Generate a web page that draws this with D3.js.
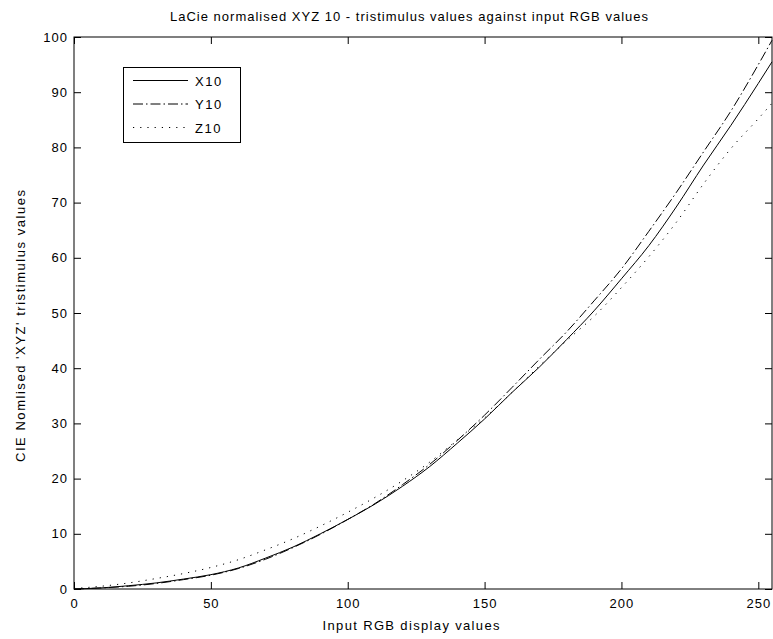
<!DOCTYPE html>

<head>
    <title>LaCie XYZ10</title>
    <script src="https://d3js.org/d3.v7.min.js"></script>

    <style>
        body {
            margin: 0;
            background-color: #ffffff;
        }

        svg text {
            font-family: "Liberation Sans", Arial, sans-serif;
            fill: #000;
        }

        .tick text {
            font-size: 13px;
            letter-spacing: 1px;
        }
    </style>
</head>

<body>
    <svg></svg>

    <script type="text/javascript">
        // input RGB display value, every 10 steps
        const rgb = [0, 10, 20, 30, 40, 50, 60, 70, 80, 90, 100, 110, 120, 130, 140, 150, 160, 170, 180, 190, 200, 210, 220, 230, 240, 250, 255]
        const x10 = [0, 0.2, 0.6, 1.1, 1.8, 2.6, 3.8, 5.6, 7.6, 10.0, 12.6, 15.4, 18.6, 22.2, 26.4, 30.8, 35.6, 40.2, 45.2, 50.4, 56.2, 62.2, 69.2, 76.8, 84.0, 91.6, 95.5]
        const y10 = [0, 0.2, 0.5, 1.0, 1.7, 2.5, 3.7, 5.4, 7.5, 9.9, 12.6, 15.5, 18.9, 22.6, 26.9, 31.5, 36.5, 41.6, 46.6, 52.2, 58.0, 64.8, 71.8, 79.2, 86.6, 95.0, 99.4]
        const z10 = [0.1, 0.5, 1.1, 1.9, 2.8, 3.9, 5.3, 7.1, 9.1, 11.4, 13.9, 16.6, 19.6, 23.0, 27.0, 31.0, 35.6, 40.4, 45.0, 49.4, 54.6, 60.2, 66.4, 73.4, 79.8, 85.2, 88.0]

        const seriesNames = ['X10', 'Y10', 'Z10']
        const dashes = ['none', '10,3,1.5,3', '1.2,6']

        const xTicks = [0, 50, 100, 150, 200, 250]
        const yTicks = [0, 10, 20, 30, 40, 50, 60, 70, 80, 90, 100]

        const W = 773, H = 639
        const plotL = 74, plotR = 772, plotT = 37, plotB = 589

        let svg = d3.select('svg').attr('width', W).attr('height', H)

        let xScale = d3.scaleLinear().domain([0, 255]).range([plotL, plotR])
        let yScale = d3.scaleLinear().domain([0, 100]).range([plotB, plotT])

        // axes with inward ticks on all four sides
        svg.append('g')
            .attr('transform', `translate(0,${plotB})`)
            .call(d3.axisBottom(xScale).tickValues(xTicks).tickSize(-7).tickPadding(10).tickFormat(d3.format('d')))
        svg.append('g')
            .attr('transform', `translate(0,${plotT})`)
            .call(d3.axisTop(xScale).tickValues(xTicks).tickSize(-7).tickFormat(''))
        svg.append('g')
            .attr('transform', `translate(${plotL},0)`)
            .call(d3.axisLeft(yScale).tickValues(yTicks).tickSize(-7).tickPadding(6).tickFormat(d3.format('d')))
        svg.append('g')
            .attr('transform', `translate(${plotR},0)`)
            .call(d3.axisRight(yScale).tickValues(yTicks).tickSize(-7).tickFormat(''))

        svg.selectAll('.domain').remove()
        svg.selectAll('.tick line').attr('stroke', '#000')
        svg.selectAll('g').attr('font-size', null).attr('font-family', null)

        svg.append('rect')
            .attr('x', plotL).attr('y', plotT)
            .attr('width', plotR - plotL).attr('height', plotB - plotT)
            .attr('fill', 'none').attr('stroke', '#000').attr('stroke-width', 1)

        // curves
        let allSeries = [x10, y10, z10]
        let line = d3.line()
            .x((d, i) => xScale(rgb[i]))
            .y(d => yScale(d))
            .curve(d3.curveMonotoneX)

        svg.append('g').selectAll('path.curve')
            .data(allSeries)
            .enter()
            .append('path')
            .attr('class', 'curve')
            .attr('d', d => line(d))
            .attr('fill', 'none')
            .attr('stroke', '#000')
            .attr('stroke-width', 1)
            .attr('stroke-dasharray', (d, i) => dashes[i])

        // legend
        let legend = svg.append('g')
        legend.append('rect')
            .attr('x', 123.5).attr('y', 67.5)
            .attr('width', 117).attr('height', 75)
            .attr('fill', '#fff').attr('stroke', '#000')

        let items = legend.selectAll('g.item')
            .data(seriesNames)
            .enter()
            .append('g')
            .attr('class', 'item')
            .attr('transform', (d, i) => `translate(0,${80.5 + i * 23.5})`)

        items.append('line')
            .attr('x1', 133).attr('x2', 188)
            .attr('stroke', '#000')
            .attr('stroke-dasharray', (d, i) => dashes[i])
        items.append('text')
            .text(d => d)
            .attr('x', 195).attr('y', 5)
            .style('font-size', '13px')
            .style('letter-spacing', '1.5px')

        // title and axis labels
        svg.append('text')
            .text('LaCie normalised XYZ 10 - tristimulus values against input RGB values')
            .attr('x', 409).attr('y', 21)
            .attr('text-anchor', 'middle')
            .attr('textLength', 478).attr('lengthAdjust', 'spacing')
            .style('font-size', '13px')

        svg.append('text')
            .text('Input RGB display values')
            .attr('x', 411).attr('y', 630)
            .attr('text-anchor', 'middle')
            .attr('textLength', 177).attr('lengthAdjust', 'spacing')
            .style('font-size', '13px')

        svg.append('text')
            .text("CIE Nomlised 'XYZ' tristimulus values")
            .attr('transform', 'translate(25,326) rotate(-90)')
            .attr('text-anchor', 'middle')
            .attr('textLength', 272).attr('lengthAdjust', 'spacing')
            .style('font-size', '13px')
    </script>

</body>
